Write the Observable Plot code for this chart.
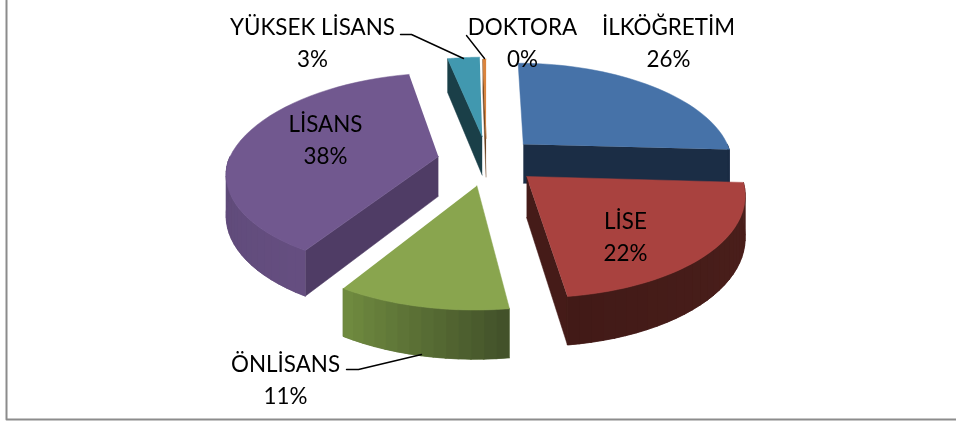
<!DOCTYPE html>
<html>
<head>
<meta charset="utf-8">
<script src="https://cdn.jsdelivr.net/npm/d3@7"></script>
<script src="https://cdn.jsdelivr.net/npm/@observablehq/plot@0.6"></script>
<style>
html,body{margin:0;padding:0;background:#fff;}
svg{display:block;filter:blur(0.35px);}
</style>
</head>
<body>
<div id="chart"></div>
<script>
// Data
const categories = ["İLKÖĞRETİM", "LİSE", "ÖNLİSANS", "LİSANS", "YÜKSEK LİSANS", "DOKTORA"];
const shares = [26, 22, 11, 38, 3, 0.3];
const percentLabels = ["26%", "22%", "11%", "38%", "3%", "0%"];

// Appearance
const topColors = ["#4672a8", "#a9423f", "#89a54e", "#71588f", "#4198af", "#db843d"];
const wallStart = ["#1b2d45", "#4c201c", "#6f8a3f", "#5e4a78", "#1a3f48", "#6d4320"];
const wallEnd = ["#1b2d45", "#421a17", "#43522a", "#654e80", "#1a3f48", "#6d4320"];
const radialColors = ["#1b2d45", "#451b18", "#43522a", "#4f3c65", "#1a3f48", "#6d4320"];
const nudgeX = [2, 3, 1, 0, 1, 0];
const nudgeY = [-1, 0, 2, 0, -2, 0];

// Projection constants of the 3D pie
const cx = 486, cy = 160, R = 213, explode = 50, tilt = 0.458, persp = 0.152, perspFar = 0.18, widthScale = 0.985, depth = 40;
const project = (X, Y, Z) => {
  const s = 1 / (1 - persp * Y / R);
  const sx = 1 / (1 - (Y < 0 ? perspFar : persp) * Y / R);
  return {x: cx + widthScale * X * sx, y: cy + tilt * Y * s + Z * s};
};

const total = d3.sum(shares);
let acc = 0;
const slices = categories.map((name, i) => {
  const a0 = acc / total * 2 * Math.PI;
  acc += shares[i];
  const a1 = acc / total * 2 * Math.PI;
  const mid = (a0 + a1) / 2;
  return {i, name, a0, a1, ox: explode * Math.sin(mid), oy: -explode * Math.cos(mid)};
});
const shift = (s, p) => ({x: p.x + nudgeX[s.i], y: p.y + nudgeY[s.i]});
const rim = (s, a, z) => shift(s, project(s.ox + R * Math.sin(a), s.oy - R * Math.cos(a), z));
const apex = (s, z) => shift(s, project(s.ox, s.oy, z));
const arcAngles = (a0, a1) => d3.range(0, 41).map(k => a0 + (a1 - a0) * k / 40);

// Polygons, back to front
const polys = [];
let id = 0;
const add = (pts, fill) => { id++; pts.forEach(p => polys.push({...p, id, fill})); };
const drawOrder = [4, 5, 0, 3, 2, 1];
for (const i of drawOrder) {
  const s = slices[i];
  // radial wall facing the viewer
  if (i === 0 || i === 1) add([apex(s, 0), rim(s, s.a1, 0), rim(s, s.a1, depth), apex(s, depth)], radialColors[i]);
  if (i === 3 || i === 4 || i === 5) add([apex(s, 0), rim(s, s.a0, 0), rim(s, s.a0, depth), apex(s, depth)], radialColors[i]);
  // outer wall: solid base, then shaded strips (front half only)
  const lo = Math.max(s.a0, Math.PI / 2), hi = Math.min(s.a1, 3 * Math.PI / 2);
  if (hi > lo) {
    const col = d3.interpolateRgb(wallStart[i], wallEnd[i]);
    const arc = arcAngles(lo, hi);
    add([...arc.map(a => rim(s, a, 0)), ...arc.slice().reverse().map(a => rim(s, a, depth))], col(0.5));
    const n = Math.max(2, Math.round((hi - lo) / 0.05));
    for (let k = 0; k < n; k++) {
      const b0 = lo + (hi - lo) * k / n, b1 = Math.min(lo + (hi - lo) * (k + 1.1) / n, hi);
      add([rim(s, b0, 0), rim(s, b1, 0), rim(s, b1, depth), rim(s, b0, depth)],
          (i === 2 || i === 3) ? col(1 - k / (n - 1)) : col(k / (n - 1)));
    }
  }
  // top face
  add([apex(s, 0), ...arcAngles(s.a0, s.a1).map(a => rim(s, a, 0))], topColors[i]);
}

// Label layout
const labelLayout = [
  {x: 668, y: 40}, {x: 625, y: 234}, {x: 285, y: 377}, {x: 325, y: 137}, {x: 312, y: 40}, {x: 522, y: 40}
];
const labels = categories.map((c, i) => ({...labelLayout[i], text: `${c}\n${percentLabels[i]}`}));
const leaders = [
  {id: 1, x: 400, y: 34}, {id: 1, x: 411, y: 34}, {id: 1, x: 463, y: 58},
  {id: 2, x: 466, y: 35}, {id: 2, x: 484, y: 58},
  {id: 3, x: 346, y: 369}, {id: 3, x: 358, y: 369}, {id: 3, x: 421, y: 354}
];
const frame = [{x: 6, y: 0}, {x: 6, y: 419}, {x: 956, y: 419}];

const chart = Plot.plot({
  width: 956, height: 423,
  margin: 0,
  x: {domain: [0, 956], range: [0, 956], axis: null},
  y: {domain: [0, 423], range: [0, 423], axis: null},
  marks: [
    Plot.line(frame, {x: "x", y: "y", stroke: "#8c8c8c", strokeWidth: 2, curve: "linear"}),
    Plot.line(polys, {x: "x", y: "y", z: "id", fill: "fill", stroke: "fill", strokeWidth: 0.5, curve: "linear"}),
    Plot.line(leaders, {x: "x", y: "y", z: "id", stroke: "#000", strokeWidth: 1.4, curve: "linear"}),
    Plot.text(labels, {x: "x", y: "y", text: "text", fontSize: 22.4, lineHeight: 1.44, fill: "#000",
      fontFamily: "Lato, 'Open Sans', sans-serif", textAnchor: "middle", lineAnchor: "middle"})
  ]
});
document.getElementById("chart").appendChild(chart);
</script>
</body>
</html>
